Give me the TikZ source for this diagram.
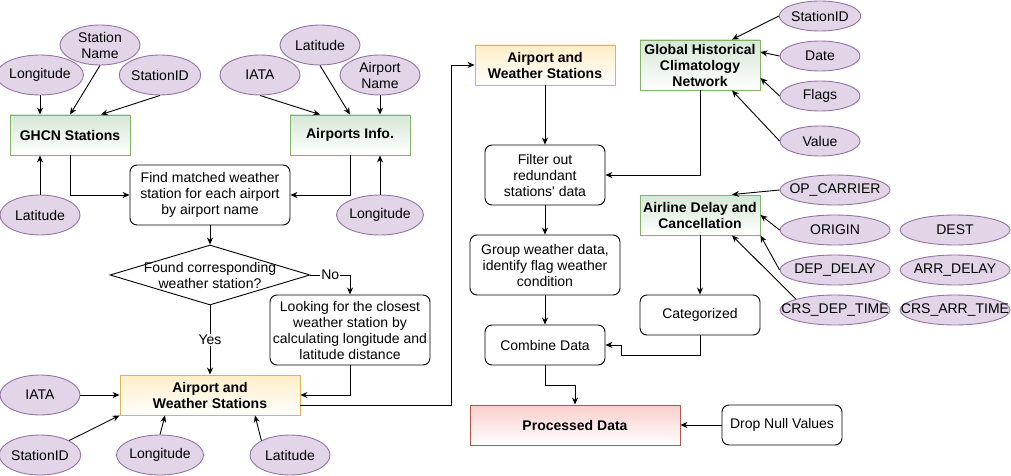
\documentclass[tikz,border=0pt]{standalone}
\usepackage{fontspec}
\setmainfont{Liberation Sans}
\usetikzlibrary{shapes.geometric,arrows.meta}
\definecolor{attrfill}{HTML}{E1D5E7}
\definecolor{attrdraw}{HTML}{9673A6}
\definecolor{gfill}{HTML}{D5E8D4}
\definecolor{gdraw}{HTML}{82B366}
\definecolor{yfill}{HTML}{FFEDC6}
\definecolor{ydraw}{HTML}{D6B656}
\definecolor{rfill}{HTML}{F8CECC}
\definecolor{rdraw}{HTML}{B85450}
\newcommand{\zw}[1]{\makebox[0pt]{#1}}
\tikzset{
  txt/.style={font=\fontsize{14}{16}\selectfont, align=center},
  btxt/.style={font=\fontsize{14}{16}\selectfont\bfseries, align=center},
  sz/.style 2 args={minimum width=#1pt, minimum height=#2pt},
  attr/.style={ellipse, draw=attrdraw, fill=attrfill, line width=0.9pt, inner sep=0pt, txt},
  gbox/.style={rectangle, draw=gdraw, top color=gfill, bottom color=white, line width=0.9pt, inner sep=0pt, btxt},
  ybox/.style={rectangle, draw=ydraw, top color=yfill, bottom color=white, line width=0.9pt, inner sep=0pt, btxt},
  rbox/.style={rectangle, draw=rdraw, top color=rfill, bottom color=white, line width=0.9pt, inner sep=0pt, btxt},
  proc/.style={rectangle, rounded corners=7pt, draw=black, fill=white, line width=0.9pt, inner sep=0pt, txt},
  decision/.style={diamond, draw=black, fill=white, line width=0.9pt, inner sep=0pt, txt},
  arr/.style={-{Stealth[length=7pt,width=6pt]}, line width=0.9pt, black},
  elbl/.style={fill=white, inner sep=1pt, txt},
}
\begin{document}
\begin{tikzpicture}[x=1pt,y=-1pt]
\useasboundingbox (0,0) rectangle (1011,476);
% ---------- left part ----------
\node[attr, sz={80}{40}] (lon1) at (40,75) {Longitude};
\node[attr, sz={80}{40}] (sname) at (100,45) {Station\\Name};
\node[attr, sz={80}{40}] (sid1) at (160,75) {StationID};
\node[gbox, sz={120}{40}] (ghcn) at (70,135) {GHCN Stations};
\node[attr, sz={80}{40}] (lat1) at (40,215) {Latitude};
\node[proc, sz={160}{60}] (find) at (210,195) {Find matched weather\\station for each airport\\by airport name};
\node[attr, sz={80}{40}] (iata1) at (260,75) {IATA};
\node[attr, sz={80}{40}] (lat2) at (320,45) {Latitude};
\node[attr, sz={80}{40}] (aname) at (380,75) {Airport\\Name};
\node[gbox, sz={120}{40}] (apinfo) at (350,135) {Airports Info.};
\node[attr, sz={80}{40}] (lon2) at (380,215) {Longitude};
\node[decision, sz={200}{60}] (found) at (210,275) {\zw{Found corresponding}\\\zw{weather station?}};
\node[proc, sz={160}{70}] (look) at (350,330) {Looking for the closest\\weather station by\\calculating longitude and\\latitude distance};
\node[ybox, sz={180}{40}] (aws1) at (210,395) {Airport and\\Weather Stations};
\node[attr, sz={80}{40}] (iata2) at (40,395) {IATA};
\node[attr, sz={80}{40}] (sid2) at (40,455) {StationID};
\node[attr, sz={80}{40}] (lon3) at (160,455) {Longitude};
\node[attr, sz={80}{40}] (lat3) at (290,455) {Latitude};
% ---------- middle part ----------
\node[ybox, sz={140}{40}] (aws2) at (545,65) {Airport and\\Weather Stations};
\node[proc, sz={120}{60}] (filter) at (545,175) {Filter out\\redundant\\stations\textquotesingle\ data};
\node[proc, sz={150}{60}] (group) at (545,265) {Group weather data,\\identify flag weather\\condition};
\node[proc, sz={120}{40}] (combine) at (545,345) {Combine Data};
\node[rbox, sz={210}{40}] (processed) at (575,425) {Processed Data};
\node[proc, sz={120}{40}] (dropnull) at (782,425) {Drop Null Values};
% ---------- right part ----------
\node[gbox, sz={120}{50}] (ghcnn) at (700,65) {\zw{Global Historical}\\\zw{Climatology}\\\zw{Network}};
\node[attr, sz={80}{30}] (sid3) at (820,16) {StationID};
\node[attr, sz={80}{30}] (date) at (820,56) {Date};
\node[attr, sz={80}{30}] (flags) at (820,96) {Flags};
\node[attr, sz={80}{30}] (value) at (820,141) {Value};
\node[gbox, sz={120}{40}] (airline) at (700,215) {\zw{Airline Delay and}\\\zw{Cancellation}};
\node[proc, sz={120}{40}] (cat) at (700,315) {Categorized};
\node[attr, sz={110}{30}] (opc) at (835,190) {\zw{OP\_CARRIER}};
\node[attr, sz={110}{30}] (origin) at (835,230) {ORIGIN};
\node[attr, sz={110}{30}] (depd) at (835,270) {\zw{DEP\_DELAY}};
\node[attr, sz={110}{30}] (crsd) at (835,310) {\zw{CRS\_DEP\_TIME}};
\node[attr, sz={110}{30}] (dest) at (955,230) {DEST};
\node[attr, sz={110}{30}] (arrd) at (955,270) {\zw{ARR\_DELAY}};
\node[attr, sz={110}{30}] (crsa) at (955,310) {\zw{CRS\_ARR\_TIME}};
% ---------- connectors: left ----------
\draw[arr] (lon1.south) -- (lon1.south |- ghcn.north);
\draw[arr] (sname.south) -- (ghcn.north);
\draw[arr] (sid1.south) -- ([xshift=31pt]ghcn.north);
\draw[arr] (lat1.north) -- (lat1.north |- ghcn.south);
\draw[arr] (ghcn.south) |- (find.west);
\draw[arr] (iata1.south) -- ([xshift=-30pt]apinfo.north);
\draw[arr] (lat2.south) -- (apinfo.north);
\draw[arr] (aname.south) -- (aname.south |- apinfo.north);
\draw[arr] (lon2.north) -- (lon2.north |- apinfo.south);
\draw[arr] (apinfo.south) |- (find.east);
\draw[arr] (find.south) -- (found.north);
\draw[arr] (found.east) -| node[elbl, pos=0.25] {No} (look.north);
\draw[arr] (found.south) -- node[elbl] {Yes} (aws1.north);
\draw[arr] (look.south) |- (aws1.east);
\draw[arr] (iata2.east) -- (aws1.west);
\draw[arr] (sid2.north east) -- (aws1.south west);
\draw[arr] (lon3.north) -- ([xshift=-45pt]aws1.south);
\draw[arr] (lat3.north west) -- ([xshift=45pt]aws1.south);
\draw[arr] ([yshift=-10pt]aws1.east) -- ++(151,0) |- (aws2.west);
% ---------- connectors: middle ----------
\draw[arr] (aws2.south) -- (filter.north);
\draw[arr] (ghcnn.south) |- (filter.east);
\draw[arr] (filter.south) -- (group.north);
\draw[arr] (group.south) -- (combine.north);
\draw[arr] (airline.south) -- (cat.north);
\draw[arr] (cat.south) -- ++(0,20) -| ([xshift=16pt]combine.east) -- (combine.east);
\draw[arr] (combine.south) -- ++(0,20) -| (processed.north);
\draw[arr] (dropnull.west) -- (processed.east);
% ---------- connectors: right ----------
\draw[arr] (sid3.west) -- ([xshift=32pt]ghcnn.north);
\draw[arr] (date.west) -- ([yshift=13pt]ghcnn.east);
\draw[arr] (flags.west) -- ([yshift=-13pt]ghcnn.east);
\draw[arr] (value.west) -- ([xshift=32pt]ghcnn.south);
\draw[arr] (opc.west) -- ([xshift=32pt]airline.north);
\draw[arr] (origin.west) -- (airline.east);
\draw[arr] (depd.west) -- (airline.south east);
\draw[arr] (crsd.north west) -- ([xshift=32pt]airline.south);
\end{tikzpicture}
\end{document}
